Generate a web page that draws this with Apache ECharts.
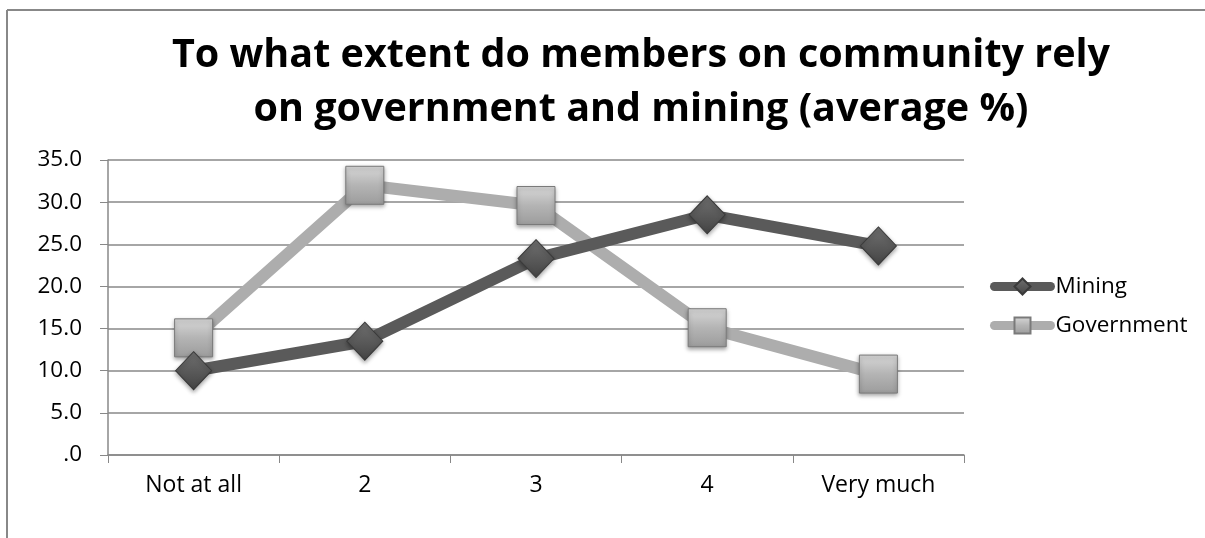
<!DOCTYPE html>
<html><head><meta charset="utf-8">
<script src="https://cdn.jsdelivr.net/npm/echarts@6/dist/echarts.min.js"></script>
<style>html,body{margin:0;padding:0;background:#fff}#c{width:1205px;height:538px}</style>
</head><body><div id="c"></div>
<script>
const categories = ['Not at all', '2', '3', '4', 'Very much'];
const mining = [10.0, 13.5, 23.3, 28.5, 24.8];
const government = [13.9, 32.0, 29.6, 15.1, 9.6];
const titleText = 'To what extent do members on community rely\non government and mining (average %)';
const FONT = 'Open Sans';

const chart = echarts.init(document.getElementById('c'));
const sqGrad = new echarts.graphic.LinearGradient(0, 0, 0, 1, [
  {offset: 0, color: '#d8d8d8'}, {offset: 0.5, color: '#b4b4b4'}, {offset: 1, color: '#9c9c9c'}]);
const diaGrad = new echarts.graphic.LinearGradient(0, 0, 0, 1, [
  {offset: 0, color: '#707070'}, {offset: 0.5, color: '#5a5a5a'}, {offset: 1, color: '#444444'}]);
chart.setOption({
  animation: false,
  backgroundColor: '#fff',
  graphic: [
    {type: 'line', shape: {x1: 7, y1: 10, x2: 1205, y2: 10}, style: {stroke: '#888', lineWidth: 2}, silent: true},
    {type: 'line', shape: {x1: 7, y1: 10, x2: 7, y2: 538}, style: {stroke: '#888', lineWidth: 2}, silent: true}
  ],
  title: {text: titleText, left: 636, textAlign: 'center', top: 24,
    textStyle: {fontFamily: FONT, fontWeight: 'bold', fontSize: 39.5, color: '#000', lineHeight: 54}},
  grid: {left: 108, right: 241, top: 160, bottom: 83},
  legend: {orient: 'vertical', left: 985, top: 270, itemGap: 16, itemWidth: 56, itemHeight: 20,
    lineStyle: {width: 9, cap: 'round'},
    textStyle: {fontFamily: FONT, fontSize: 22.5, color: '#000'},
    data: ['Mining', 'Government']},
  xAxis: {type: 'category', data: categories, boundaryGap: true,
    axisLine: {lineStyle: {color: '#888', width: 1.5}},
    axisTick: {show: true, length: 8, lineStyle: {color: '#888'}},
    axisLabel: {fontFamily: FONT, fontSize: 23, color: '#000', margin: 19}},
  yAxis: {type: 'value', min: 0, max: 35, interval: 5,
    axisLine: {show: true, lineStyle: {color: '#888', width: 1.5}},
    axisTick: {show: true, length: 8, inside: false, lineStyle: {color: '#888'}},
    splitLine: {lineStyle: {color: '#888', width: 1.5}},
    axisLabel: {fontFamily: FONT, fontSize: 22.5, color: '#000', margin: 26,
      formatter: v => v === 0 ? '.0' : v.toFixed(1)}},
  series: [
    {name: 'Mining', type: 'line', data: mining, symbol: 'diamond', symbolSize: [36, 38],
      lineStyle: {color: '#5a5a5a', width: 12}, color: '#5a5a5a',
      itemStyle: {color: diaGrad, borderColor: '#3a3a3a', borderWidth: 1,
        shadowBlur: 4, shadowColor: 'rgba(0,0,0,0.35)', shadowOffsetY: 2}, z: 3},
    {name: 'Government', type: 'line', data: government, symbol: 'rect', symbolSize: [38, 38],
      lineStyle: {color: '#adadad', width: 12}, color: '#adadad',
      itemStyle: {color: sqGrad, borderColor: '#7a7a7a', borderWidth: 1,
        shadowBlur: 4, shadowColor: 'rgba(0,0,0,0.35)', shadowOffsetY: 2}, z: 2}
  ]
});
</script></body></html>
